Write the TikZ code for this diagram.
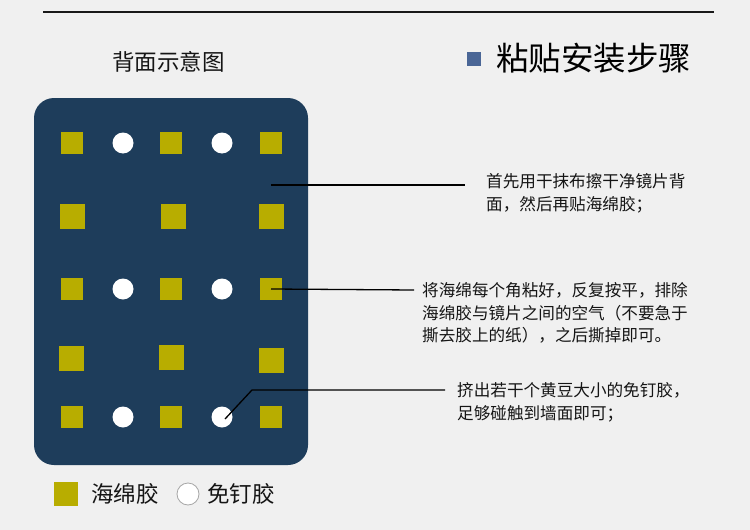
\documentclass[tikz,border=0pt]{standalone}
\usepackage{fontspec}
\setmainfont{Noto Sans CJK SC}
\newfontfamily\cjk{Noto Sans CJK SC}
\definecolor{bgc}{HTML}{F0F0F0}
\definecolor{panelc}{HTML}{1E3D5B}
\definecolor{padc}{HTML}{B8AD00}
\definecolor{markc}{HTML}{4A6696}
\definecolor{txtc}{HTML}{151515}
\tikzset{
  pad/.style={fill=padc, draw=none, minimum size=#1, inner sep=0pt},
  pad/.default=22pt,
  glue/.style={circle, fill=white, draw=none, minimum size=21pt, inner sep=0pt},
  leader/.style={draw=black, line width=1.3pt},
  note/.style={anchor=west, align=left, text=txtc, inner sep=0pt, font=\cjk\fontsize{16.6}{22.8}\selectfont},
}
\begin{document}
\begin{tikzpicture}[x=1pt,y=-1pt]
\fill[bgc] (0,0) rectangle (750,530);
\useasboundingbox (0,0) rectangle (750,530);
% top rule
\coordinate (ruleL) at (43,12);
\coordinate (ruleR) at (714,12);
\draw[line width=2.5pt, black!90] (ruleL) -- (ruleR);
% titles
\node[anchor=west, text=txtc, inner sep=0pt, font=\cjk\fontsize{22.5}{26}\selectfont] (t1) at (112,62) {背面示意图};
\node[fill=markc, minimum size=14pt, inner sep=0pt] (tm) at (474,59) {};
\node[anchor=west, text=black, inner sep=0pt, font=\cjk\fontsize{32.5}{36}\selectfont] (t2) at (496,58) {粘贴安装步骤};
% panel
\node[fill=panelc, rounded corners=20pt, minimum width=274pt, minimum height=367pt, inner sep=0pt] (panel) at (171,281.5) {};
% row 1
\node[pad] (s11) at (72,143) {};
\node[glue] (c11) at (123,143) {};
\node[pad] (s12) at (171,143) {};
\node[glue] (c12) at (222,143) {};
\node[pad] (s13) at (271,143) {};
% row 2
\node[pad=25pt] (s21) at (72.5,216) {};
\node[pad=25pt] (s22) at (173,216) {};
\node[pad=25pt] (s23) at (271,216) {};
% row 3
\node[pad] (s31) at (72,289) {};
\node[glue] (c31) at (123,289) {};
\node[pad] (s32) at (171,289) {};
\node[glue] (c32) at (222,289) {};
\node[pad] (s33) at (271,289) {};
% row 4
\node[pad=25pt] (s41) at (71.5,358.5) {};
\node[pad=25pt] (s42) at (171.5,357.5) {};
\node[pad=25pt] (s43) at (271.5,360.5) {};
% row 5
\node[pad] (s51) at (72,417) {};
\node[glue] (c51) at (123,417) {};
\node[pad] (s52) at (171,417) {};
\node[glue] (c52) at (222,417) {};
\node[pad] (s53) at (271,417) {};
% notes
\node[note] (n1) at (486,193) {首先用干抹布擦干净镜片背\\面，然后再贴海绵胶；};
\node[note] (n2) at (422,313) {将海绵每个角粘好，反复按平，排除\\海绵胶与镜片之间的空气（不要急于\\撕去胶上的纸），之后撕掉即可。};
\node[note] (n3) at (457,402.5) {挤出若干个黄豆大小的免钉胶，\\足够碰触到墙面即可；};
% leaders
\coordinate (p1) at (271,185);
\coordinate (e1) at (465,185);
\draw[leader] (p1) -- (e1);
\coordinate (e2) at (414,290);
\draw[leader] (s33.center) -- (e2);
\coordinate (k3) at (252,390);
\coordinate (e3) at (445,390);
\draw[leader] ([xshift=3pt,yshift=-2pt]c52.center) -- (k3) -- (e3);
% legend
\node[pad=24pt] (ls) at (66,494) {};
\node[anchor=west, text=txtc, inner sep=0pt, font=\cjk\fontsize{22.5}{26}\selectfont] (lt1) at (91,494) {海绵胶};
\node[circle, fill=white, draw=gray!70, line width=0.8pt, minimum size=22pt, inner sep=0pt] (lc) at (188,494) {};
\node[anchor=west, text=txtc, inner sep=0pt, font=\cjk\fontsize{22.5}{26}\selectfont] (lt2) at (207,494) {免钉胶};
\end{tikzpicture}
\end{document}
